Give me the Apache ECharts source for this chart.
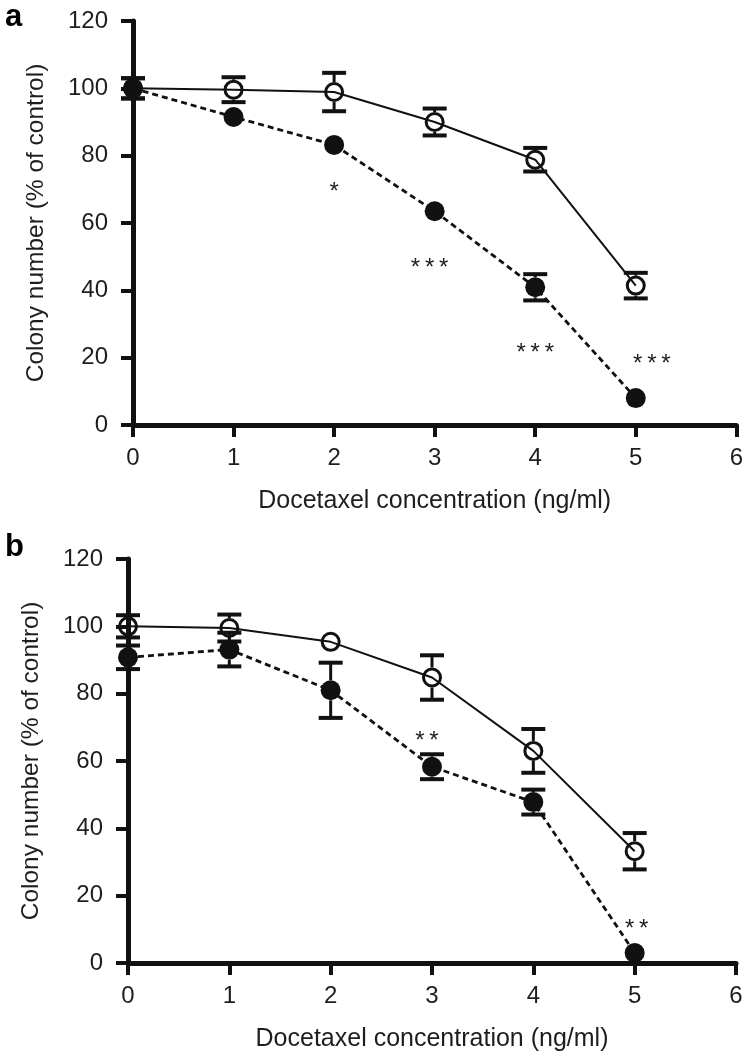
<!DOCTYPE html>
<html>
<head>
<meta charset="utf-8">
<script src="https://cdn.jsdelivr.net/npm/echarts@6/dist/echarts.min.js"></script>
<style>
html,body{margin:0;padding:0;background:#fff;}
#chart{width:746px;height:1054px;}
</style>
</head>
<body>
<div id="chart"></div>
<script>
// ---- data ----
var concentrations = [0, 1, 2, 3, 4, 5];
var xTicks = [0, 1, 2, 3, 4, 5, 6];
var yTicks = [0, 20, 40, 60, 80, 100, 120];

// panel a
var aOpen = [100, 99.6, 98.9, 90, 78.8, 41.4];
var aOpenErr = [3, 3.7, 5.7, 4, 3.5, 3.8];
var aFilled = [100, 91.5, 83.2, 63.5, 40.9, 8];
var aFilledErr = [3, 0, 0, 0, 3.9, 0];
var aStarX = [2, 2.95, 4.0, 5.16];
var aStarY = [70.9, 48.4, 23, 19.8];
var aStarText = ['*', '***', '***', '***'];

// panel b
var bOpen = [100, 99.5, 95.4, 84.8, 63, 33.2];
var bOpenErr = [3.3, 4, 0, 6.6, 6.5, 5.4];
var bFilled = [90.8, 93.1, 81, 58.3, 47.8, 3.0];
var bFilledErr = [3.5, 5, 8.2, 3.7, 3.7, 0];
var bStarX = [2.95, 5.02];
var bStarY = [67.5, 11.9];
var bStarText = ['**', '**'];

var panelLabels = ['a', 'b'];
var xName = 'Docetaxel concentration (ng/ml)';
var yName = 'Colony number (% of control)';

// ---- styling ----
var INK = '#111';
var TXT = '#1e1e1e';
var FONT = '"Liberation Sans", Arial, Helvetica, sans-serif';
var MARK = 20;

function pairs(xs, ys) { return xs.map(function (x, i) { return [x, ys[i]]; }); }
function triples(xs, ys, es) { return xs.map(function (x, i) { return [x, ys[i], es[i]]; }); }

function errRender(params, api) {
  var x = api.value(0), y = api.value(1), e = api.value(2);
  if (!e) return null;
  var c = api.coord([x, y]);
  var t = api.coord([x, y + e]);
  var b = api.coord([x, y - e]);
  var r = MARK / 2, hw = 12;
  var kids = [];
  if (c[1] - t[1] > r) kids.push({type: 'line', shape: {x1: c[0], y1: c[1] - r, x2: c[0], y2: t[1]}, style: {stroke: INK, lineWidth: 3}});
  if (b[1] - c[1] > r) kids.push({type: 'line', shape: {x1: c[0], y1: c[1] + r, x2: c[0], y2: b[1]}, style: {stroke: INK, lineWidth: 3}});
  kids.push({type: 'line', shape: {x1: c[0] - hw, y1: t[1], x2: c[0] + hw, y2: t[1]}, style: {stroke: INK, lineWidth: 4}});
  kids.push({type: 'line', shape: {x1: c[0] - hw, y1: b[1], x2: c[0] + hw, y2: b[1]}, style: {stroke: INK, lineWidth: 4}});
  return {type: 'group', children: kids};
}

function starRender(texts) {
  return function (params, api) {
    var p = api.coord([api.value(0), api.value(1)]);
    return {
      type: 'text', x: p[0], y: p[1] + 6,
      style: {text: texts[params.dataIndex].split('').join('\u2009'), fontSize: 24, fontFamily: FONT, fill: TXT, align: 'center', verticalAlign: 'middle'}
    };
  };
}

function makeX(gi) {
  return {
    type: 'value', gridIndex: gi, min: xTicks[0], max: xTicks[xTicks.length - 1], interval: 1,
    name: xName, nameLocation: 'middle', nameGap: 64,
    nameTextStyle: {fontSize: 25, fontFamily: FONT, color: TXT},
    axisLine: {show: true, onZero: false, lineStyle: {color: INK, width: 5}},
    axisTick: {show: true, inside: false, length: 12, lineStyle: {color: INK, width: 4}},
    axisLabel: {fontSize: 24, fontFamily: FONT, color: TXT, margin: 21},
    splitLine: {show: false}
  };
}
function makeY(gi) {
  return {
    type: 'value', gridIndex: gi, min: yTicks[0], max: yTicks[yTicks.length - 1], interval: 20,
    name: yName, nameLocation: 'middle', nameGap: 84, nameRotate: 90,
    nameTextStyle: {fontSize: 24.5, fontFamily: FONT, color: TXT},
    axisLine: {show: true, onZero: false, lineStyle: {color: INK, width: 5}},
    axisTick: {show: true, inside: false, length: 12, lineStyle: {color: INK, width: 4}},
    axisLabel: {fontSize: 24, fontFamily: FONT, color: TXT, margin: 25},
    splitLine: {show: false}
  };
}

function panelSeries(gi, open, openErr, filled, filledErr, sx, sy, st) {
  return [
    {type: 'line', xAxisIndex: gi, yAxisIndex: gi, data: pairs(concentrations, filled), z: 2,
      symbol: 'circle', symbolSize: MARK,
      lineStyle: {color: INK, width: 2.8, type: [6, 4]},
      itemStyle: {color: INK, borderColor: INK, borderWidth: 0}},
    {type: 'line', xAxisIndex: gi, yAxisIndex: gi, data: pairs(concentrations, open), z: 3,
      symbol: 'circle', symbolSize: MARK - 3,
      lineStyle: {color: INK, width: 2},
      itemStyle: {color: 'rgba(255,255,255,0)', borderColor: INK, borderWidth: 3}},
    {type: 'custom', xAxisIndex: gi, yAxisIndex: gi, renderItem: errRender, z: 4,
      data: triples(concentrations, filled, filledErr), encode: {x: 0, y: 1}},
    {type: 'custom', xAxisIndex: gi, yAxisIndex: gi, renderItem: errRender, z: 4,
      data: triples(concentrations, open, openErr), encode: {x: 0, y: 1}},
    {type: 'custom', xAxisIndex: gi, yAxisIndex: gi, renderItem: starRender(st), z: 5,
      data: pairs(sx, sy), encode: {x: 0, y: 1}}
  ];
}

var chart = echarts.init(document.getElementById('chart'), null, {renderer: 'canvas'});
chart.setOption({
  animation: false,
  backgroundColor: '#fff',
  grid: [
    {left: 133, right: 8, top: 21, height: 404},
    {left: 128, right: 10, top: 559, height: 404}
  ],
  xAxis: [makeX(0), makeX(1)],
  yAxis: [makeY(0), makeY(1)],
  graphic: [
    {type: 'text', left: 5, top: 2, style: {text: panelLabels[0], fontSize: 31, fontWeight: 'bold', fontFamily: FONT, fill: '#000'}},
    {type: 'text', left: 5, top: 532, style: {text: panelLabels[1], fontSize: 31, fontWeight: 'bold', fontFamily: FONT, fill: '#000'}}
  ],
  series: [].concat(
    panelSeries(0, aOpen, aOpenErr, aFilled, aFilledErr, aStarX, aStarY, aStarText),
    panelSeries(1, bOpen, bOpenErr, bFilled, bFilledErr, bStarX, bStarY, bStarText)
  )
});
</script>
</body>
</html>
